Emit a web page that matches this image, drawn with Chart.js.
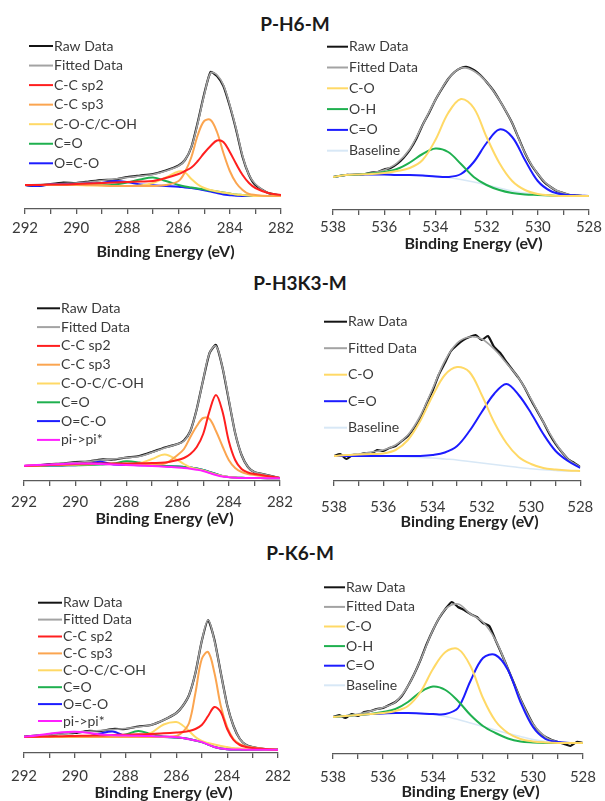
<!DOCTYPE html>
<html><head><meta charset="utf-8">
<script src="https://cdn.jsdelivr.net/npm/chart.js@4.4.1/dist/chart.umd.min.js"></script>
<style>
html,body{margin:0;padding:0;background:#fff;width:605px;height:801px;overflow:hidden;position:relative;font-family:Lato,sans-serif}
.panel{position:absolute}
.ptitle{position:absolute;font:bold 19px Lato,sans-serif;color:#1a1a1a;text-align:center;line-height:22px;white-space:nowrap;width:200px}
</style></head><body>
<div class="ptitle" style="left:195px;top:12.5px">P-H6-M</div>
<div class="ptitle" style="left:200px;top:272px">P-H3K3-M</div>
<div class="ptitle" style="left:200px;top:541.5px">P-K6-M</div>
<div class="panel" style="left:0;top:29px;width:300px;height:232px"><canvas id="c1"></canvas></div>
<div class="panel" style="left:300px;top:30px;width:305px;height:223px"><canvas id="c2"></canvas></div>
<div class="panel" style="left:0;top:301px;width:300px;height:227px"><canvas id="c3"></canvas></div>
<div class="panel" style="left:300px;top:301px;width:305px;height:230px"><canvas id="c4"></canvas></div>
<div class="panel" style="left:0;top:573px;width:300px;height:229px"><canvas id="c5"></canvas></div>
<div class="panel" style="left:300px;top:574px;width:305px;height:227px"><canvas id="c6"></canvas></div>
<script>
// ---------- axes ----------
const C1S_EV = [292, 291.5, 291, 290.5, 290, 289.5, 289, 288.5, 288, 287.5, 287, 286.5, 286, 285.75, 285.5, 285.25, 285, 284.75, 284.5, 284.25, 284, 283.75, 283.5, 283.25, 283, 282.5, 282];
const O1S_EV = [538, 537.5, 537, 536.5, 536, 535.5, 535, 534.5, 534, 533.5, 533, 532.5, 532, 531.5, 531, 530.5, 530, 529.5, 529, 528.5, 528];
const O1S_RAW_EV = [538, 537.75, 537.5, 537.25, 537, 536.75, 536.5, 536.25, 536, 535.75, 535.5, 535.25, 535, 534.75, 534.5, 534.25, 534, 533.75, 533.5, 533.25, 533, 532.75, 532.5, 532.25, 532, 531.75, 531.5, 531.25, 531, 530.75, 530.5, 530.25, 530, 529.75, 529.5, 529.25, 529, 528.75, 528.5, 528.25, 528];
const C1S_TICKS = [292, 290, 288, 286, 284, 282];
const O1S_TICKS = [538, 536, 534, 532, 530, 528];
const AXIS_TITLE = 'Binding Energy (eV)';
const PANEL_TITLES = ['P-H6-M', 'P-H3K3-M', 'P-K6-M'];
const C1S_LABELS_5 = ['Raw Data', 'Fitted Data', 'C-C sp2', 'C-C sp3', 'C-O-C/C-OH', 'C=O', 'O=C-O'];
const C1S_LABELS_6 = ['Raw Data', 'Fitted Data', 'C-C sp2', 'C-C sp3', 'C-O-C/C-OH', 'C=O', 'O=C-O', 'pi->pi*'];
const O1S_LABELS_3 = ['Raw Data', 'Fitted Data', 'C-O', 'O-H', 'C=O', 'Baseline'];
const O1S_LABELS_2 = ['Raw Data', 'Fitted Data', 'C-O', 'C=O', 'Baseline'];

// ---------- P-H6-M, C 1s ----------
const H6_C_RAW = [24, 23, 25, 26.5, 26, 27.5, 29, 29.5, 32, 33.5, 35, 38.5, 43.5, 49, 62, 87, 115, 137, 133, 123, 103, 79, 52, 34, 24, 16, 13.5];
const H6_C_FIT = [24, 24.5, 25, 25.5, 26, 27, 28.5, 30, 31.5, 33, 34.5, 38, 43, 49, 62, 86, 114, 136, 134, 124, 104, 80, 53, 34, 25, 16, 14];
const H6_C_SP2 = [24, 24, 24.5, 24.5, 25, 25.5, 26, 26.5, 27, 27.5, 28, 31, 35, 38, 41.5, 48, 56, 63, 68.5, 67, 57, 45, 34, 26, 21, 16, 14];
const H6_C_SP3 = [24, 24, 24, 24, 24, 24, 23.5, 23, 23, 23, 23, 24, 28, 37, 52, 74, 88, 89, 77, 56, 38, 26, 19, 15, 14, 13, 13];
const H6_C_COC = [24, 24, 24, 24, 24, 23.5, 23.5, 23, 23, 23.5, 26, 31.5, 37.5, 36.5, 30, 24.5, 21, 19, 17.5, 16.5, 15.5, 14.5, 14, 13.5, 13, 13, 13];
const H6_C_CO  = [24, 24, 24, 24, 24, 24, 24, 24.5, 26.5, 29.5, 31.5, 28, 24, 22.5, 21.5, 20.5, 19.5, 18.5, 17.5, 16.5, 15.5, 14.5, 14, 13.5, 13, 13, 13];
const H6_C_OCO = [24, 23, 24.5, 24.5, 25, 25.5, 26, 28, 27, 24.5, 23.7, 23, 22.3, 21.5, 21, 20, 18.7, 17.5, 16, 14.5, 13.8, 13.2, 13, 13, 13, 13, 13];

// ---------- P-H6-M, O 1s ----------
const H6_O_RAW = [33, 34, 35, 35, 35.5, 36, 37.5, 38, 40.5, 42, 46, 52, 60, 71, 85, 97, 110, 121, 131, 138, 142, 143, 140, 135, 128, 120, 110, 99, 87, 72, 57, 45, 36, 28, 23, 19, 17, 15, 14.5, 14, 14];
const H6_O_FIT = [33, 35, 35.5, 37, 40, 47, 61, 85, 110, 131, 142, 139, 128, 110, 87, 57, 36, 23, 17, 14.5, 14];
const H6_O_CO  = [33, 35, 35.5, 36, 37, 39, 42, 50, 70, 97, 111, 102, 73, 47, 29, 20, 16, 14.5, 14, 14, 14];
const H6_O_OH  = [33, 35, 35.5, 36.5, 38, 41, 47.5, 56, 61.5, 58, 46, 33, 25, 20, 17, 15.5, 15, 14.5, 14, 14, 14];
const H6_O_CDO = [33, 35, 35.5, 35.5, 35.5, 35, 35, 34.5, 33.5, 33, 36, 48, 67, 80.5, 73, 50, 29, 19, 15.5, 14.5, 14];
const H6_O_BASE = [33, 35, 35.5, 35.5, 35.5, 35.3, 35, 34.5, 34, 32.5, 30.5, 28, 25, 22, 19, 17, 15.5, 14.5, 14, 14, 14];

// ---------- P-H3K3-M, C 1s ----------
const H3K3_C_RAW = [15, 15.5, 17, 17.5, 19, 19.5, 21.5, 21.5, 23.5, 25, 29, 33.5, 37, 40.5, 50, 72, 101, 128, 136, 114, 81, 48, 26, 14, 9, 6, 3];
const H3K3_C_FIT = [15, 16, 16.5, 17.5, 18.5, 19.5, 21, 22, 23.5, 24.5, 28.5, 33, 37, 40, 50, 72, 101, 128, 135, 114, 82, 48, 26, 14, 9, 6, 3];
const H3K3_C_SP2 = [15, 15.5, 16, 16.5, 17, 17.3, 17.5, 17.5, 17.5, 17.7, 18, 18.5, 21, 23, 27, 34, 47, 70, 86, 70, 40, 21, 12, 8.5, 7, 5, 3];
const H3K3_C_SP3 = [15, 15.5, 16, 16.3, 16.5, 16.8, 17, 17, 17, 17, 17, 17.5, 26, 32, 44, 55, 63, 62, 50, 35, 21, 13, 9, 7, 6, 4.5, 3];
const H3K3_C_COC = [15, 15.5, 16, 16.3, 16.5, 16.8, 17, 17, 17, 17.5, 22, 26.5, 21, 17, 13.5, 12, 10.5, 8.5, 6.5, 5, 4, 3.5, 3.2, 3, 3, 2.8, 2.7];
const H3K3_C_CO  = [15, 15.2, 15.4, 15.6, 15.8, 16, 16.5, 17.5, 19.8, 18.5, 16, 15, 14.5, 14, 13.5, 12.5, 11, 9, 7, 5, 4, 3.5, 3.2, 3, 3, 2.8, 2.7];
const H3K3_C_OCO = [15, 15.2, 15.4, 15.6, 15.8, 17, 19.3, 16.5, 16, 15.8, 15.5, 15, 14.5, 14, 13.5, 12.5, 11, 9, 7, 5, 4, 3.5, 3.2, 3, 3, 2.8, 2.7];
const H3K3_C_PI  = [15.3, 16, 16.5, 17, 17.5, 17.5, 17, 16.5, 16, 15.5, 15, 14.3, 13.5, 13, 12.3, 11.3, 10, 8, 6, 4.5, 3.8, 3.3, 3, 3, 3, 2.8, 2.7];

// ---------- P-H3K3-M, O 1s ----------
const H3K3_O_RAW = [25, 27, 22, 26, 26, 28, 27, 31, 30, 33, 35, 40, 45, 53, 63, 77, 90, 106, 118, 130, 136, 141, 144, 146, 141, 145, 134, 128, 119, 111, 103, 93, 81, 70, 59, 47, 37, 29, 22, 18, 14];
const H3K3_O_FIT = [25, 26, 27, 29, 31, 36, 46, 65, 92, 120, 138, 144, 142, 132, 118, 103, 82, 59, 38, 22, 14];
const H3K3_O_CO  = [25, 26, 26.5, 27, 27.5, 31, 41, 60, 85, 106, 114, 109, 86, 59, 38, 24, 17, 13, 11.5, 10.5, 10];
const H3K3_O_CDO = [25, 25, 25, 25, 25, 25, 25, 25, 26, 28.5, 35, 50, 69, 87, 97, 86, 68, 47, 30, 20, 13];
const H3K3_O_BASE = [25, 25, 25, 25, 25, 24.5, 24, 23.5, 23, 22, 21, 19.5, 18, 16.5, 15, 13.5, 12.3, 11.2, 10.5, 10, 10];

// ---------- P-K6-M, C 1s ----------
const K6_C_RAW = [16.3, 17.5, 17.5, 19.5, 20, 22, 22, 24, 24, 26.5, 28, 33, 40, 47, 58, 80, 112, 133, 113, 80, 48, 27, 14, 8, 6, 4, 3.3];
const K6_C_FIT = [16.3, 17, 18, 19, 20.5, 21.5, 22.5, 23.5, 24.5, 26, 28, 33, 40, 47, 58, 80, 112, 133, 112, 80, 48, 27, 14, 8, 6, 4, 3.3];
const K6_C_SP2 = [16, 16.3, 16.5, 16.8, 17, 17.3, 17.5, 18, 18.3, 18.7, 19, 19.7, 20.5, 21, 22, 24, 28, 37, 46, 41, 24, 13, 8, 6, 5, 4, 3.3];
const K6_C_SP3 = [16, 16, 16, 16, 16, 16, 16, 16, 16, 16, 16, 16, 17, 21, 30, 60, 94, 101, 80, 47, 26, 14, 9, 6.5, 5.5, 4, 3.3];
const K6_C_COC = [16, 16, 16, 16, 16, 16, 16, 16, 16, 16.5, 20, 28.5, 31, 27.5, 22, 16, 12, 10, 8.5, 7, 6, 5, 4.5, 4, 3.8, 3.5, 3.3];
const K6_C_CO  = [16, 16, 16, 16, 16, 16, 16, 16.5, 18.5, 22, 19, 16.5, 15.5, 15, 14, 12.5, 11, 8.5, 6, 4.5, 3.8, 3.5, 3.4, 3.3, 3.3, 3.3, 3.3];
const K6_C_OCO = [16, 16, 16, 16, 16, 16.5, 19.5, 21.5, 17, 16, 16, 16, 15.5, 15, 14, 12.5, 11, 8.5, 6, 4.5, 3.8, 3.5, 3.4, 3.3, 3.3, 3.3, 3.3];
const K6_C_PI  = [16.3, 17.5, 19.3, 20.8, 21.3, 20.3, 18.5, 17.8, 17.5, 17.2, 16.9, 16.5, 15.8, 15, 13.8, 12.5, 11, 8.5, 6, 4.5, 3.8, 3.5, 3.4, 3.3, 3.3, 3.3, 3.3];

// ---------- P-K6-M, O 1s ----------
const K6_O_RAW = [37, 39, 36, 40, 38, 42, 43, 45, 46, 49, 52, 58, 68, 80, 94, 110, 124, 136, 145, 152, 147, 144, 140, 137, 131, 128, 114, 100, 85, 70, 55, 42, 30, 22, 17, 14, 12, 10, 8, 12, 11];
const K6_O_FIT = [37, 38, 40, 43, 46.5, 52, 68, 94, 124, 145, 150, 140, 132, 114, 85, 55, 30, 17, 12, 11, 11];
const K6_O_CO  = [37, 38, 39, 40, 41, 43, 48, 62, 85, 102, 105, 88, 56, 33, 21, 15, 12.5, 11.5, 11, 11, 11];
const K6_O_OH  = [37, 38, 39, 40, 42, 45, 52, 62, 67.5, 64, 53, 39, 28, 21, 15.5, 12.5, 11.5, 11, 11, 11, 11];
const K6_O_CDO = [37, 38, 39, 40, 40.5, 41, 41, 40.5, 40, 40, 46, 73, 96, 99, 84, 52, 27, 15, 12, 11, 11];
const K6_O_BASE = [37, 38, 39, 40, 40.5, 41, 41, 40.5, 39.5, 37.5, 34.5, 31, 27.5, 24, 20.5, 17.5, 14.5, 12.5, 11.5, 11, 11];

// ---------- styles ----------
const COL = {raw:'#141414', fit:'#a3a3a3', sp2:'#ff1f1f', sp3:'#fba550', coc:'#ffd966', co:'#1fb04f', oco:'#1c1cff', pi:'#ff1fff', base:'#d8e8f6'};

function pts(xs, ys){ return xs.map((x,i)=>({x:x, y:ys[i]})); }
function ds(label, xs, ys, color, width, order, tension){
  return {label:label, data:pts(xs,ys), borderColor:color, backgroundColor:color, borderWidth:width,
          showLine:true, pointRadius:0, tension:tension, order:order, fill:false};
}

const xpsLegend = {
  id:'xpsLegend',
  afterDatasetsDraw(chart, args, o){
    const ctx = chart.ctx; ctx.save();
    ctx.font = '14px Lato'; ctx.textBaseline = 'middle'; ctx.textAlign = 'left';
    chart.data.datasets.forEach((d,i)=>{
      const y = o.y + i*o.dy;
      ctx.strokeStyle = d.borderColor; ctx.lineWidth = 2;
      ctx.beginPath(); ctx.moveTo(o.x, y); ctx.lineTo(o.x+o.len, y); ctx.stroke();
      ctx.fillStyle = '#3a3a3a'; ctx.fillText(d.label, o.x+o.len+1, y);
    });
    ctx.restore();
  }
};
const titleShift = {
  id:'titleShift',
  beforeDraw(chart, args, o){
    const s = chart.scales.x;
    if (s && !s.__shifted){
      const orig = s.drawTitle;
      s.drawTitle = function(){ this.ctx.save(); this.ctx.translate(o.dx,0); orig.call(this); this.ctx.restore(); };
      s.__shifted = true;
    }
  }
};

function makeChart(id, datasets, p){
  return new Chart(document.getElementById(id), {
    type:'scatter',
    data:{datasets:datasets},
    plugins:[xpsLegend, titleShift],
    options:{
      responsive:true, maintainAspectRatio:false, animation:false, events:[],
      layout:{padding:{left:p.padL, right:p.padR, top:0, bottom:0}},
      plugins:{legend:{display:false}, tooltip:{enabled:false},
               xpsLegend:{x:p.lx, y:p.ly, dy:p.ldy, len:p.llen}, titleShift:{dx:12.5}},
      scales:{
        x:{type:'linear', reverse:true, min:p.min, max:p.max,
           afterFit:(s)=>{ s.height = p.scaleH; },
           border:{display:true, color:'#5a5a5a', width:1.3},
           grid:{display:true, drawOnChartArea:false, drawTicks:true, tickLength:5, color:'#5a5a5a', lineWidth:1.3},
           ticks:{stepSize:1, autoSkip:false, maxRotation:0, minRotation:0, padding:p.tickPad - 0.6, color:'#3a3a3a',
                  font:{family:'Lato', size:15}, callback:(v)=> p.ticks.includes(v) ? String(v) : ''},
           title:{display:true, text:AXIS_TITLE, color:'#222222', padding:0, font:{family:'Lato', size:16, weight:'bold'}}
        },
        y:{display:false, min:0, max:180}
      }
    }
  });
}

function c1sSets(L, raw, fit, sp2, sp3, coc, co, oco, pi){
  const s = [
    ds(L[0], C1S_EV, raw, COL.raw, 2.2, 4, 0.2),
    ds(L[1], C1S_EV, fit, COL.fit, 1.6, 3, 0.35),
    ds(L[2], C1S_EV, sp2, COL.sp2, 2, 1, 0.35),
    ds(L[3], C1S_EV, sp3, COL.sp3, 2, 1, 0.35),
    ds(L[4], C1S_EV, coc, COL.coc, 2, 1, 0.35),
    ds(L[5], C1S_EV, co, COL.co, 2, 1, 0.35),
    ds(L[6], C1S_EV, oco, COL.oco, 2, 1, 0.35)
  ];
  if (pi) s.push(ds(L[7], C1S_EV, pi, COL.pi, 2, 0, 0.35));
  return s;
}

makeChart('c1', c1sSets(C1S_LABELS_5, H6_C_RAW, H6_C_FIT, H6_C_SP2, H6_C_SP3, H6_C_COC, H6_C_CO, H6_C_OCO, null),
  {padL:25, padR:19, min:282, max:292, ticks:C1S_TICKS, scaleH:52, tickPad:5.6, lx:29, ly:17, ldy:19.55, llen:24});

makeChart('c2', [
    ds(O1S_LABELS_3[0], O1S_RAW_EV, H6_O_RAW, COL.raw, 2.2, 4, 0.2),
    ds(O1S_LABELS_3[1], O1S_EV, H6_O_FIT, COL.fit, 1.6, 3, 0.35),
    ds(O1S_LABELS_3[2], O1S_EV, H6_O_CO, COL.coc, 2, 1, 0.35),
    ds(O1S_LABELS_3[3], O1S_EV, H6_O_OH, COL.co, 2, 1, 0.35),
    ds(O1S_LABELS_3[4], O1S_EV, H6_O_CDO, COL.oco, 2, 1, 0.35),
    ds(O1S_LABELS_3[5], O1S_EV, H6_O_BASE, COL.base, 1.6, 5, 0.35)
  ], {padL:33, padR:15, min:528, max:538, ticks:O1S_TICKS, scaleH:43, tickPad:3.6, lx:27, ly:16.7, ldy:20.8, llen:21});

makeChart('c3', c1sSets(C1S_LABELS_6, H3K3_C_RAW, H3K3_C_FIT, H3K3_C_SP2, H3K3_C_SP3, H3K3_C_COC, H3K3_C_CO, H3K3_C_OCO, H3K3_C_PI),
  {padL:24, padR:19, min:282, max:292, ticks:C1S_TICKS, scaleH:47, tickPad:7.6, lx:37, ly:7.3, ldy:18.8, llen:23});

makeChart('c4', [
    ds(O1S_LABELS_2[0], O1S_RAW_EV, H3K3_O_RAW, COL.raw, 2.2, 4, 0.2),
    ds(O1S_LABELS_2[1], O1S_EV, H3K3_O_FIT, COL.fit, 1.6, 3, 0.35),
    ds(O1S_LABELS_2[2], O1S_EV, H3K3_O_CO, COL.coc, 2, 1, 0.35),
    ds(O1S_LABELS_2[3], O1S_EV, H3K3_O_CDO, COL.oco, 2, 1, 0.35),
    ds(O1S_LABELS_2[4], O1S_EV, H3K3_O_BASE, COL.base, 1.6, 5, 0.35)
  ], {padL:34, padR:15, min:528, max:538, ticks:O1S_TICKS, scaleH:50, tickPad:12.3, lx:24, ly:20.7, ldy:26.5, llen:23});

makeChart('c5', c1sSets(C1S_LABELS_6, K6_C_RAW, K6_C_FIT, K6_C_SP2, K6_C_SP3, K6_C_COC, K6_C_CO, K6_C_OCO, K6_C_PI),
  {padL:24, padR:18, min:282, max:292, ticks:C1S_TICKS, scaleH:49, tickPad:9.6, lx:38, ly:29.7, ldy:16.9, llen:24});

makeChart('c6', [
    ds(O1S_LABELS_3[0], O1S_RAW_EV, K6_O_RAW, COL.raw, 2.2, 4, 0.2),
    ds(O1S_LABELS_3[1], O1S_EV, K6_O_FIT, COL.fit, 1.6, 3, 0.35),
    ds(O1S_LABELS_3[2], O1S_EV, K6_O_CO, COL.coc, 2, 1, 0.35),
    ds(O1S_LABELS_3[3], O1S_EV, K6_O_OH, COL.co, 2, 1, 0.35),
    ds(O1S_LABELS_3[4], O1S_EV, K6_O_CDO, COL.oco, 2, 1, 0.35),
    ds(O1S_LABELS_3[5], O1S_EV, K6_O_BASE, COL.base, 1.6, 5, 0.35)
  ], {padL:33, padR:15, min:528, max:538, ticks:O1S_TICKS, scaleH:47, tickPad:9.6, lx:24, ly:13.3, ldy:19.6, llen:21});
</script>
</body></html>
